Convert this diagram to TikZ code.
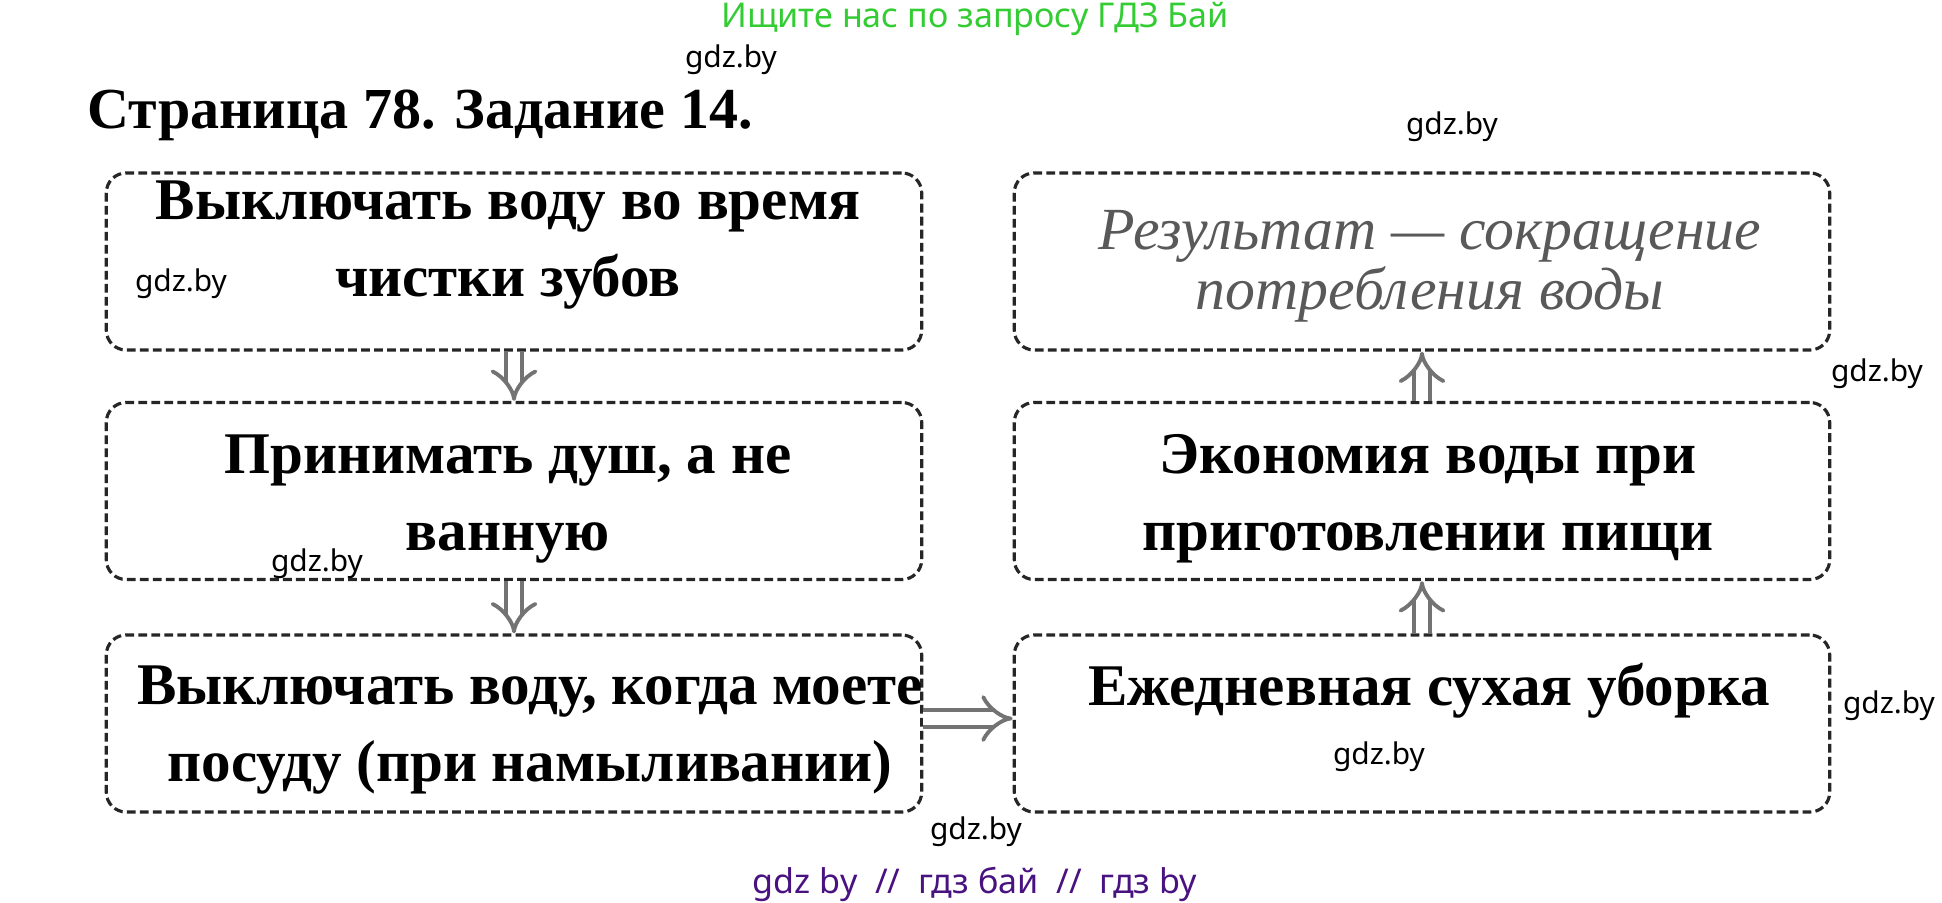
\documentclass[tikz,border=0pt]{standalone}
\usepackage{fontspec}
\setmainfont{Liberation Serif}
\newfontfamily\wmfont{Noto Sans}
\usetikzlibrary{arrows.meta}
\definecolor{wmgreen}{RGB}{51,204,51}
\definecolor{wmpurple}{RGB}{72,18,128}
\tikzset{
	kasten/.style={draw=black!85, dash pattern=on 2.5pt off 1.2pt, line width=0.9pt, rounded corners=2mm, minimum width=8.15cm, minimum height=1.77cm, inner sep=0pt},
	satz/.style={font=\bfseries\fontsize{16.8}{22}\selectfont, align=center},
	hand/.style={font=\itshape\fontsize{17}{17}\selectfont, text=black!65, align=center},
	pfeil/.style={draw=black!55, double=white, double distance=3.5pt, line width=1.1pt, -{Implies}},
	wm/.style={font=\wmfont\fontsize{8.5}{10}\selectfont}
}
\begin{document}
\begin{tikzpicture}[x=0.01cm, y=-0.01cm]
	\useasboundingbox (0, 0) rectangle (1942, 902);
	
	\node[font=\wmfont\fontsize{9.7}{11}\selectfont, text=wmgreen] (kopf) at (975, 19) {Ищите нас по запросу ГДЗ Бай};
	\node[anchor=west, inner sep=0pt, font=\bfseries\fontsize{16.5}{20}\selectfont] (titel) at (87, 115) {Страница 78. Задание 14.};
	
	\node[kasten] (zaehne) at (514, 261.5) {};
	\node[kasten] (dusche) at (514, 491) {};
	\node[kasten] (geschirr) at (514, 723.5) {};
	\node[kasten] (ergebnis) at (1422, 261.5) {};
	\node[kasten] (kochen) at (1422, 491) {};
	\node[kasten] (putzen) at (1422, 723.5) {};
	
	\node[satz] (tzaehne) at (508, 245) {Выключать воду во время\\чистки зубов};
	\node[satz] (tdusche) at (508, 499) {Принимать душ, а не\\ванную};
	\node[satz] (tgeschirr) at (530, 730) {Выключать воду, когда моете\\посуду (при намыливании)};
	\node[hand] (tergebnis) at (1430, 266) {Результат — сокращение\\потребления воды};
	\node[satz] (tkochen) at (1428, 499) {Экономия воды при\\приготовлении пищи};
	\node[satz] (tputzen) at (1429, 691) {Ежедневная сухая уборка};
	
	\draw[pfeil] (zaehne.south) -- (dusche.north);
	\draw[pfeil] (dusche.south) -- (geschirr.north);
	\draw[pfeil] ([yshift=0.05cm]geschirr.east) -- ([yshift=0.05cm]putzen.west);
	\draw[pfeil] (putzen.north) -- (kochen.south);
	\draw[pfeil] (kochen.north) -- (ergebnis.south);
	
	\node[wm] (wm1) at (731, 60) {gdz.by};
	\node[wm] (wm2) at (1452, 127) {gdz.by};
	\node[wm] (wm3) at (181, 284) {gdz.by};
	\node[wm] (wm4) at (1877, 374) {gdz.by};
	\node[wm] (wm5) at (317, 564) {gdz.by};
	\node[wm] (wm6) at (1889, 706) {gdz.by};
	\node[wm] (wm7) at (1379, 757) {gdz.by};
	\node[wm] (wm8) at (976, 832) {gdz.by};
	\node[font=\wmfont\fontsize{9.7}{11}\selectfont, text=wmpurple] (fuss) at (975, 884) {gdz by \ // \ гдз бай \ // \ гдз by};
\end{tikzpicture}
\end{document}
